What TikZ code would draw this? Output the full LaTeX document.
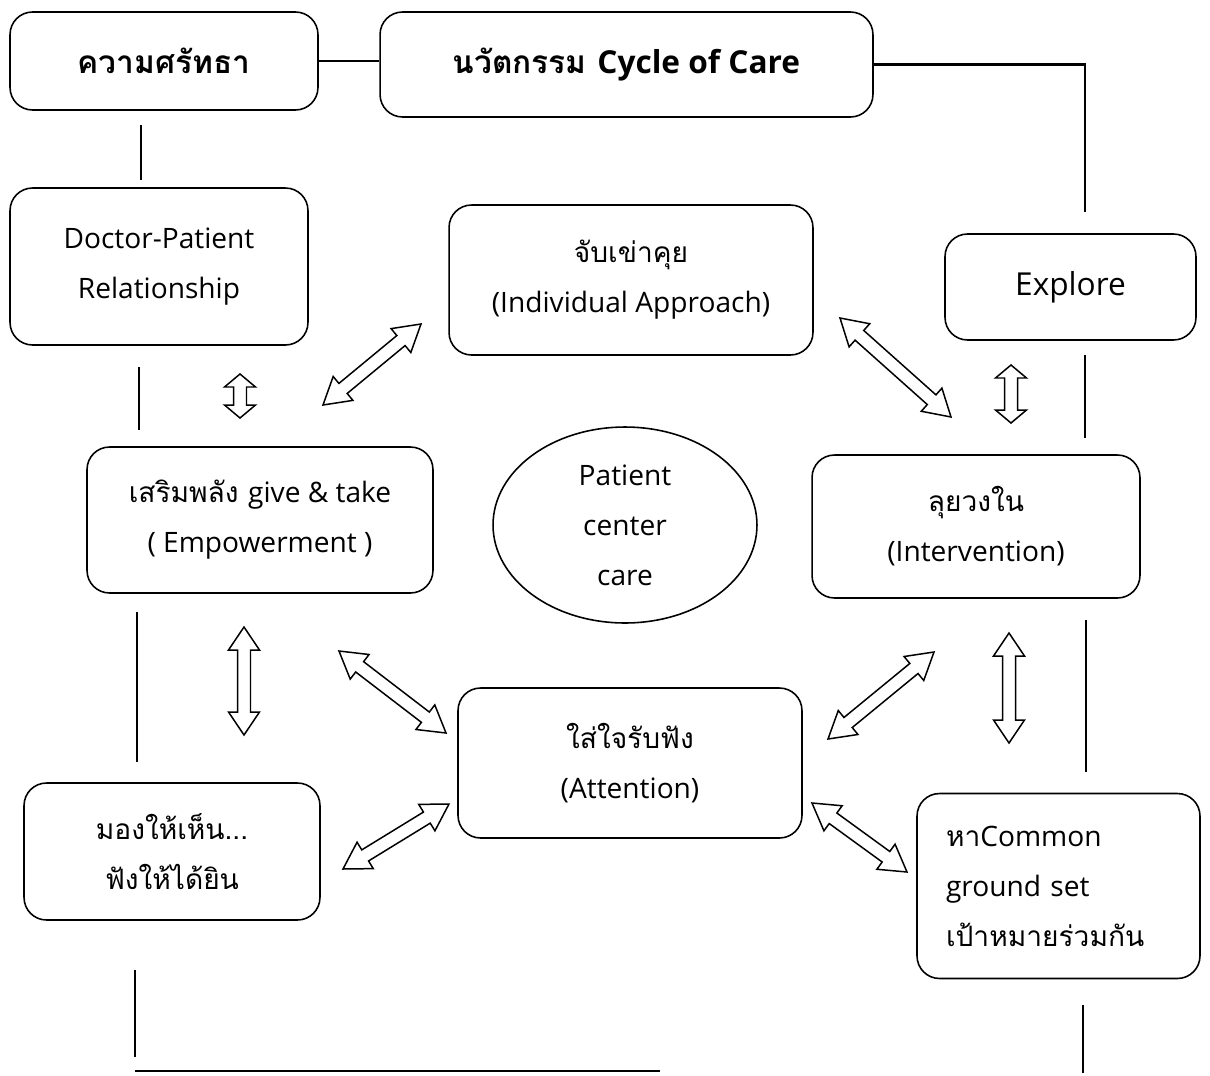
\documentclass[tikz,border=0pt]{standalone}
\usepackage{fontspec}
\setmainfont[Script=Thai]{Loma}
\newfontfamily\lat{Open Sans}
\usetikzlibrary{calc,shapes.geometric}
\newcommand\hwd{0.31cm}
\newcommand\swd{0.13cm}
\newcommand\dblarr[3]{%
  \draw[barrow] (#1)
   -- ($(#1)!#3!(#2)!\hwd!90:(#2)$)
   -- ($(#1)!#3!(#2)!\swd!90:(#2)$)
   -- ($(#2)!#3!(#1)!\swd!-90:(#1)$)
   -- ($(#2)!#3!(#1)!\hwd!-90:(#1)$)
   -- (#2)
   -- ($(#2)!#3!(#1)!\hwd!90:(#1)$)
   -- ($(#2)!#3!(#1)!\swd!90:(#1)$)
   -- ($(#1)!#3!(#2)!\swd!-90:(#2)$)
   -- ($(#1)!#3!(#2)!\hwd!-90:(#2)$)
   -- cycle;}
\begin{document}
\begin{tikzpicture}[x=0.02cm,y=-0.02cm,
  box/.style={draw, line width=0.9pt, rounded corners=0.45cm, align=center,
    inner sep=0pt, font=\fontsize{16pt}{28.5pt}\selectfont},
  title/.style={font=\fontsize{18pt}{30pt}\selectfont\bfseries},
  conn/.style={line width=1.2pt},
  barrow/.style={draw, line width=0.85pt, line join=miter, fill=white}]
\useasboundingbox (0,0) rectangle (1210,1075);

% boxes
\node[box, title, minimum width=6.16cm, minimum height=1.96cm] (k) at (164,61) {ความศรัทธา};
\node[box, title, minimum width=9.86cm, minimum height=2.1cm] (n) at (626.5,64.5) {นวัตกรรม {\lat Cycle of Care}};
\node[box, minimum width=5.96cm, minimum height=3.14cm] (dp) at (159,266.5) {\lat Doctor-Patient\\\lat Relationship};
\node[box, minimum width=7.28cm, minimum height=3.0cm] (ia) at (631,280) {จับเข่าคุย\\{\lat (Individual Approach)}};
\node[box, minimum width=5.02cm, minimum height=2.12cm, font=\fontsize{18pt}{30pt}\selectfont\lat] (ex) at (1070.5,287) {Explore};
\node[box, minimum width=6.92cm, minimum height=2.92cm] (em) at (260,520) {เสริมพลัง {\lat give \& take}\\{\lat ( Empowerment )}};
\node[box, ellipse, rounded corners=0pt, minimum width=5.28cm, minimum height=3.92cm] (pc) at (625,525) {\lat Patient\\\lat center\\\lat care};
\node[box, minimum width=6.56cm, minimum height=2.86cm] (iv) at (976,526.5) {ลุยวงใน\\{\lat (Intervention)}};
\node[box, minimum width=6.88cm, minimum height=3.0cm] (at) at (630,763) {ใส่ใจรับฟัง\\{\lat (Attention)}};
\node[box, minimum width=5.92cm, minimum height=2.74cm] (mh) at (172,851.5) {มองให้เห็น...\\ฟังให้ได้ยิน};
\node[box, align=left, text width=4.5cm, minimum width=5.66cm, minimum height=3.7cm] (cg) at (1058.5,886) {หา{\lat Common}\\{\lat ground set}\\เป้าหมายร่วมกัน};

% connector lines
\coordinate (r1) at (1085,212);
\draw[conn] (k.east) -- (k.east -| n.west);
\draw[conn] (n.east) -| (r1);

\coordinate (l1a) at (141,125); \coordinate (l1b) at (141,180);
\coordinate (l2a) at (139,367); \coordinate (l2b) at (139,430);
\coordinate (l3a) at (137,612); \coordinate (l3b) at (137,762);
\coordinate (l4a) at (135,970); \coordinate (l4b) at (135,1057);
\coordinate (b1) at (135,1071); \coordinate (b2) at (660,1071);
\coordinate (r2a) at (1085,355); \coordinate (r2b) at (1085,438);
\coordinate (r3a) at (1086,620); \coordinate (r3b) at (1086,772);
\coordinate (r4a) at (1083,1005); \coordinate (r4b) at (1083,1073);
\foreach \p in {l1,l2,l3,l4,r2,r3,r4} \draw[conn] (\p a) -- (\p b);
\draw[conn] (b1) -- (b2);

% block arrows
\coordinate (a1s) at (323,405);  \coordinate (a1e) at (421,324);
\coordinate (a2s) at (240,374);  \coordinate (a2e) at (240,418);
\coordinate (a3s) at (244,627);  \coordinate (a3e) at (244,735);
\coordinate (a4s) at (339,651);  \coordinate (a4e) at (446,733);
\coordinate (a5s) at (343,869);  \coordinate (a5e) at (449,804);
\coordinate (a6s) at (840,318);  \coordinate (a6e) at (951,417);
\coordinate (a7s) at (1011,365); \coordinate (a7e) at (1011,423);
\coordinate (a8s) at (828,739);  \coordinate (a8e) at (934,652);
\coordinate (a9s) at (1009,633); \coordinate (a9e) at (1009,743);
\coordinate (a10s) at (812,803); \coordinate (a10e) at (907,872);
\dblarr{a1s}{a1e}{0.52cm}
\dblarr{a2s}{a2e}{0.26cm}
\dblarr{a3s}{a3e}{0.46cm}
\dblarr{a4s}{a4e}{0.52cm}
\dblarr{a5s}{a5e}{0.52cm}
\dblarr{a6s}{a6e}{0.52cm}
\dblarr{a7s}{a7e}{0.26cm}
\dblarr{a8s}{a8e}{0.52cm}
\dblarr{a9s}{a9e}{0.46cm}
\dblarr{a10s}{a10e}{0.52cm}
\end{tikzpicture}
\end{document}
